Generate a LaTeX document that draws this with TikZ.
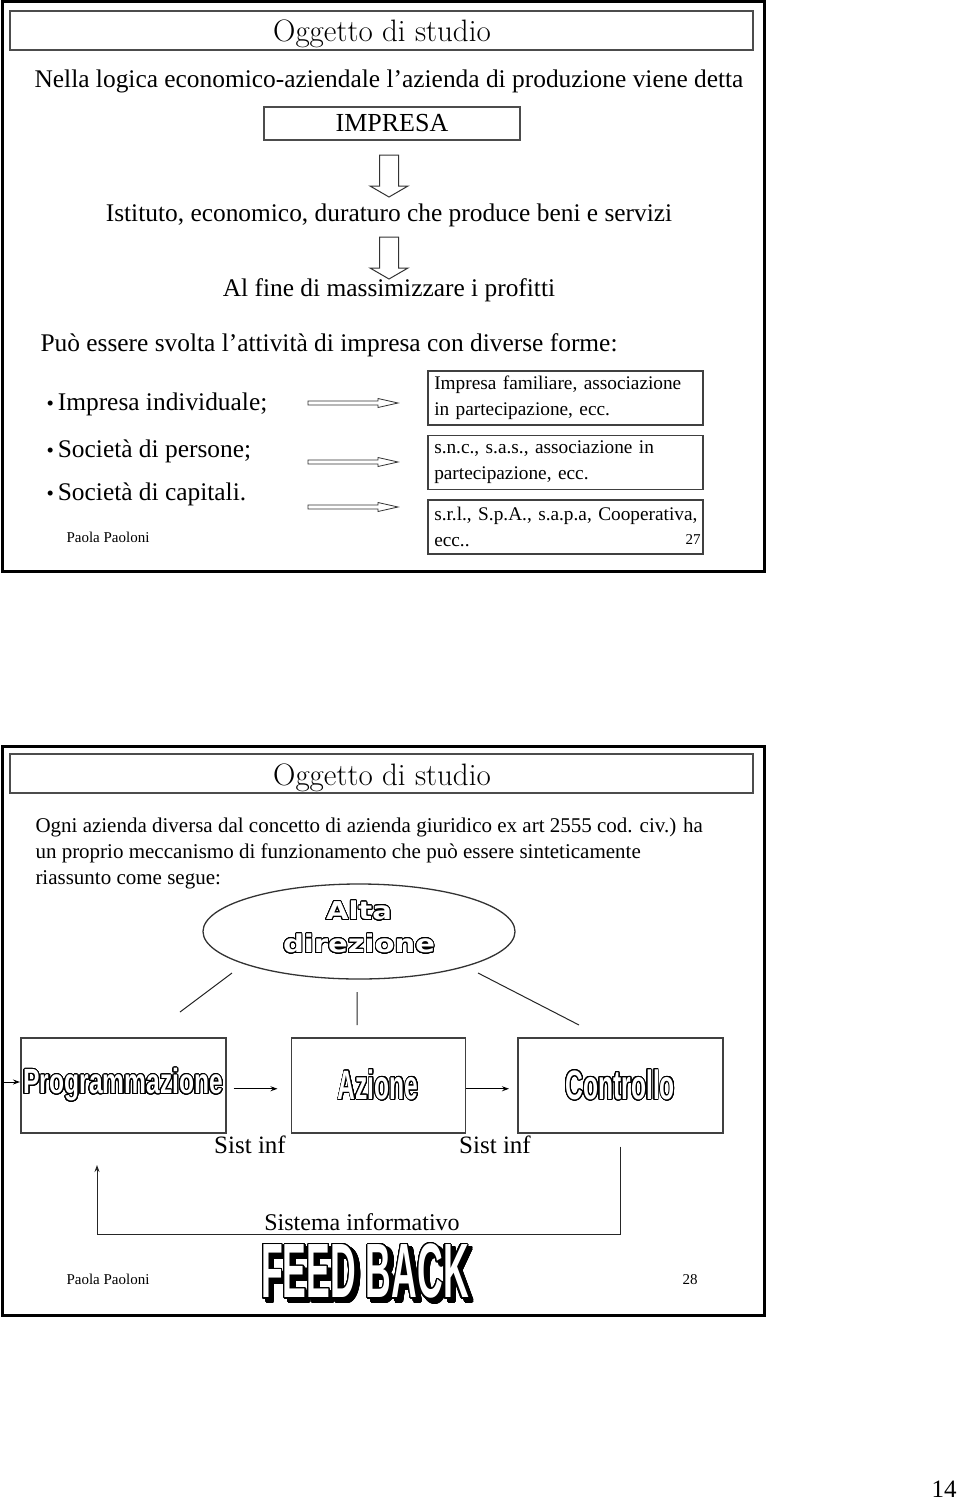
\documentclass[tikz,border=0pt]{standalone}
\usepackage{fontspec}
\setmainfont{Liberation Serif}
\newfontfamily\titlefont{Latin Modern Roman}
\newfontfamily\widesans{DejaVu Sans}[FakeStretch=1.18]
\newfontfamily\narrowsans{Liberation Sans}[FakeStretch=0.6]
\usepackage[copies]{contour}
\usetikzlibrary{arrows.meta,positioning,shapes.geometric}

\contourlength{0.9pt}
\contournumber{32}
\newcommand{\fsize}[1]{\fontsize{#1}{#1}\selectfont}
\newcommand{\bul}{{\fsize{21}•}\hspace{4pt}}

\begin{document}
\begin{tikzpicture}[x=1pt, y=-1pt, >={Stealth[length=7pt,width=5pt]}, line width=1pt]
	\tikzstyle{frame}=[draw=black, line width=3pt]
	\tikzstyle{titlebox}=[draw=black!70, line width=1.5pt]
	\tikzstyle{title}=[anchor=base, inner sep=0, font=\titlefont\fsize{31}]
	\tikzstyle{body}=[anchor=base, inner sep=0, font=\fsize{25.4}]
	\tikzstyle{small}=[anchor=base, inner sep=0, font=\fsize{15}]
	\tikzstyle{hollow}=[draw=black!80, line width=1pt]
	\tikzstyle{infobox}=[draw=black!75, line width=1.5pt, minimum width=275, minimum height=54,
		text width=262, inner xsep=6.5, align=left, font=\fontsize{19.3}{25.5}\selectfont]
	\tikzstyle{stepbox}=[draw=black!75, line width=1.5pt, minimum width=205, minimum height=95,
		inner sep=1pt, text=white, font=\narrowsans\bfseries\fsize{41}]
	\useasboundingbox[fill=white] (0,0) rectangle (960,1501);

	% slide 27
	\draw[frame] (2,2) rectangle (764,571);
	\draw[titlebox] (10,11) rectangle (753,50);
	\node[title] (t1) at (382,42) {Oggetto di studio};
	\node[body] (nella) at (389,88) {Nella logica economico-aziendale l’azienda di produzione viene detta};
	\node[draw=black!70, line width=1.5pt, minimum width=256, minimum height=33, font=\fsize{26}] (impresa) at (392,123.5) {IMPRESA};
	\foreach \ya/\yb in {155/197, 237/279}
		\draw[hollow] (379.5,\ya) -- (379.5,\yb-11) -- (370,\yb-11) -- (389,\yb) -- (408,\yb-11) -- (398.5,\yb-11) -- (398.5,\ya) -- cycle;
	\node[body] (istituto) at (389,221) {Istituto, economico, duraturo che produce beni e servizi};
	\node[body] (fine) at (389,296) {Al fine di massimizzare i profitti};
	\node[body, anchor=base west] (forme) at (40,351) {Può essere svolta l’attività di impresa con diverse forme:};
	\node[body, anchor=base west] (b1) at (46,410) {\bul Impresa individuale;};
	\node[body, anchor=base west] (b2) at (46,457) {\bul Società di persone;};
	\node[body, anchor=base west] (b3) at (46,500) {\bul Società di capitali.};
	\node[infobox, anchor=north west] (f1) at (427,370) {Impresa familiare, associazione\\in partecipazione, ecc.};
	\node[infobox, below=9pt of f1] (f2) {s.n.c., s.a.s., associazione in\\partecipazione, ecc.};
	\node[infobox, below=9pt of f2] (f3) {\mbox{s.r.l., S.p.A., s.a.p.a, Cooperativa,}\\ecc..};
	\foreach \y in {403,462,507}
		\draw[hollow, line width=0.8pt] (308,\y-2) -- (378,\y-2) -- (378,\y-4.5) -- (398,\y) -- (378,\y+4.5) -- (378,\y+2) -- (308,\y+2) -- cycle;
	\node[small, anchor=base west] (author1) at (66,542) {Paola Paoloni};
	\node[small, anchor=base east] (p27) at (701,544) {27};

	% slide 28
	\draw[frame] (2,746) rectangle (764,1315);
	\draw[titlebox] (10,754) rectangle (753,793);
	\node[title] (t2) at (382,785) {Oggetto di studio};
	\node[body, anchor=base west, font=\fsize{21}] (par1) at (35,832) {Ogni azienda diversa dal concetto di azienda giuridico ex art 2555 cod. civ.) ha};
	\node[body, anchor=base west, font=\fsize{21}] (par2) at (35,858) {un proprio meccanismo di funzionamento che può essere sinteticamente};
	\node[body, anchor=base west, font=\fsize{21}] (par3) at (35,884) {riassunto come segue:};

	\node[ellipse, draw=black!80, line width=1.3pt, minimum width=312, minimum height=95, inner sep=0] (alta) at (359,931.5) {};
	\node[align=center, text=white, inner sep=0, font=\widesans\bfseries\fontsize{24.6}{33}\selectfont]
		(altatxt) at ([yshift=4pt]alta.center) {\contour{black}{Alta}\\\contour{black}{direzione}};

	\node[stepbox, anchor=north west] (prog) at (20,1037) {\scalebox{1.17}[1]{\fsize{35}\contour{black}{Programmazione}}};
	\node[stepbox, minimum width=174, right=64pt of prog] (azione) {\contour{black}{Azione}};
	\node[stepbox, right=51pt of azione] (ctrl) {\contour{black}{Controllo}};

	\coordinate (l1a) at (232,973); \coordinate (l1b) at (180,1012);
	\coordinate (l2a) at (357,992); \coordinate (l2b) at (357,1025);
	\coordinate (l3a) at (478,973); \coordinate (l3b) at (579,1025);
	\draw[black!85] (l1a) -- (l1b) (l2a) -- (l2b) (l3a) -- (l3b);

	\coordinate (entry) at (4,1082);
	\draw[->] (entry) -- (entry -| prog.west);
	\draw[->, shorten <=7pt, shorten >=13pt] ([yshift=-3.5pt]prog.east) -- ([yshift=-3.5pt]azione.west);
	\draw[->, shorten >=8pt] ([yshift=-3.5pt]azione.east) -- ([yshift=-3.5pt]ctrl.west);

	\node[body, font=\fsize{25}] (si1) at (250,1153) {Sist inf};
	\node[body, font=\fsize{25}] (si2) at (495,1153) {Sist inf};

	\coordinate (fbl) at (97,1234);
	\coordinate (fbtip) at (97,1165);
	\draw[->, black!85, shorten <=13pt] (ctrl.south) |- (fbl) -- (fbtip);
	\node[body, font=\fsize{24}] (sisinf) at (362,1230) {Sistema informativo};

	\node[inner sep=0, text=black, font=\narrowsans\bfseries\fsize{77}] (fbshadow) at (369,1276)
		{\scalebox{0.77}[1]{\contourlength{2.2pt}\contour{black}{FEED BACK}}};
	\node[inner sep=0, text=white, font=\narrowsans\bfseries\fsize{77}] (feedback) at (365,1272)
		{\scalebox{0.77}[1]{\contourlength{1.4pt}\contour{black}{FEED BACK}}};
	\node[small, anchor=base west] (author2) at (66,1284) {Paola Paoloni};
	\node[small, anchor=base east] (p28) at (698,1284) {28};

	\node[body, anchor=base east, font=\fsize{25}] (page) at (957,1497) {14};
\end{tikzpicture}
\end{document}
